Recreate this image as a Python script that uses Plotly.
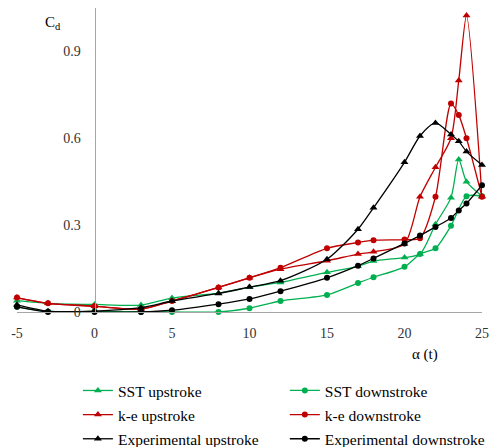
import plotly.graph_objects as go

# ---- data ----
alpha_full = [-5, -3, 0, 3, 5, 8, 10, 12, 15, 17, 18, 20, 21, 22, 23, 23.5, 24, 25]

sst_up = [0.039, 0.030, 0.026, 0.024, 0.048, 0.065, 0.086, 0.102, 0.137, 0.158, 0.176, 0.188, 0.200, 0.303, 0.395, 0.527, 0.450, 0.400]
sst_down_alpha = [-5, -3, 0, 3, 5, 8, 10, 12, 15, 17, 18, 20, 21, 22, 23, 24, 25]
sst_down = [0.018, 0.002, 0.002, 0.0, 0.0, 0.0, 0.013, 0.038, 0.059, 0.100, 0.120, 0.156, 0.200, 0.220, 0.298, 0.400, 0.400]

ke_up = [0.050, 0.030, 0.020, 0.010, 0.038, 0.085, 0.118, 0.148, 0.177, 0.200, 0.208, 0.235, 0.398, 0.500, 0.600, 0.800, 1.024, 0.398]
ke_down = [0.050, 0.030, 0.020, 0.010, 0.038, 0.085, 0.118, 0.153, 0.220, 0.240, 0.248, 0.250, 0.255, 0.398, 0.720, 0.680, 0.600, 0.398]

exp_up = [0.025, 0.003, 0.003, 0.015, 0.038, 0.064, 0.086, 0.108, 0.182, 0.286, 0.360, 0.517, 0.608, 0.653, 0.613, 0.590, 0.554, 0.508]
exp_down = [0.018, 0.0, 0.0, 0.0, 0.006, 0.027, 0.045, 0.072, 0.118, 0.160, 0.185, 0.237, 0.264, 0.294, 0.325, 0.351, 0.375, 0.438]

x_ticks = [-5, 0, 5, 10, 15, 20, 25]
y_ticks = [0, 0.3, 0.6, 0.9]
y_tick_text = ["0", "0.3", "0.6", "0.9"]

GREEN = "#00b050"
RED = "#c00000"
BLACK = "#000000"
FONT = "Liberation Serif"

fig = go.Figure()

def add(x, y, name, color, symbol, legend, rank):
    fig.add_trace(go.Scatter(
        x=x, y=y, name=name, mode="lines+markers",
        line=dict(color=color, width=1.3, shape="spline", smoothing=0.7),
        marker=dict(color=color, symbol=symbol, size=6 if symbol == "circle" else 7),
        legend=legend, legendrank=rank, legendgroup=name, cliponaxis=False,
    ))

add(alpha_full, sst_up, "SST upstroke", GREEN, "triangle-up", "legend", 1)
add(sst_down_alpha, sst_down, "SST downstroke", GREEN, "circle", "legend2", 1)
add(alpha_full, ke_up, "k-e upstroke", RED, "triangle-up", "legend", 2)
add(alpha_full, ke_down, "k-e downstroke", RED, "circle", "legend2", 2)
add(alpha_full, exp_up, "Experimental upstroke", BLACK, "triangle-up", "legend", 3)
add(alpha_full, exp_down, "Experimental downstroke", BLACK, "circle", "legend2", 3)

legend_common = dict(
    orientation="v", yanchor="top", xanchor="left",
    font=dict(family=FONT, size=15.5, color="#000"),
    bgcolor="rgba(0,0,0,0)", itemwidth=30, tracegroupgap=1,
)

fig.update_layout(
    width=489, height=447,
    margin=dict(l=17, r=6.5, t=7.5, b=135, autoexpand=False),
    paper_bgcolor="white", plot_bgcolor="white",
    font=dict(family=FONT, size=14, color="#333"),
    xaxis=dict(
        range=[-5, 25], tickvals=x_ticks, ticktext=[str(v) for v in x_ticks],
        showgrid=False, zeroline=False, showline=True, linecolor="#a6a6a6", linewidth=1,
        ticks="", ticklabelstandoff=8, ticklabeloverflow="allow",
        tickfont=dict(family=FONT, size=14, color="#333"),
    ),
    yaxis=dict(
        range=[0, 1.05], tickvals=y_ticks, ticktext=y_tick_text,
        anchor="free", position=1/6,
        showgrid=False, zeroline=False, showline=True, linecolor="#a6a6a6", linewidth=1,
        ticks="", ticklabelstandoff=11, tickfont=dict(family=FONT, size=14, color="#333"),
    ),
    legend=dict(x=0.131, y=-0.2036, **legend_common),
    legend2=dict(x=0.576, y=-0.2036, **legend_common),
    annotations=[
        dict(text="C<sub>d</sub>", xref="paper", yref="paper", x=0.056, y=0.95,
             xanchor="left", yanchor="middle", showarrow=False,
             font=dict(family=FONT, size=15, color="#000")),
        dict(text="α (t)", xref="paper", yref="paper", x=0.8776, y=-0.1414,
             xanchor="center", yanchor="middle", showarrow=False,
             font=dict(family=FONT, size=15, color="#000")),
    ],
)

# remove the browser's default 8px body margin so the figure fills the window
fig.write_html(
    "out.html",
    config={"displayModeBar": False},
    post_script="document.body.style.margin='0';document.body.style.overflow='hidden';",
)
